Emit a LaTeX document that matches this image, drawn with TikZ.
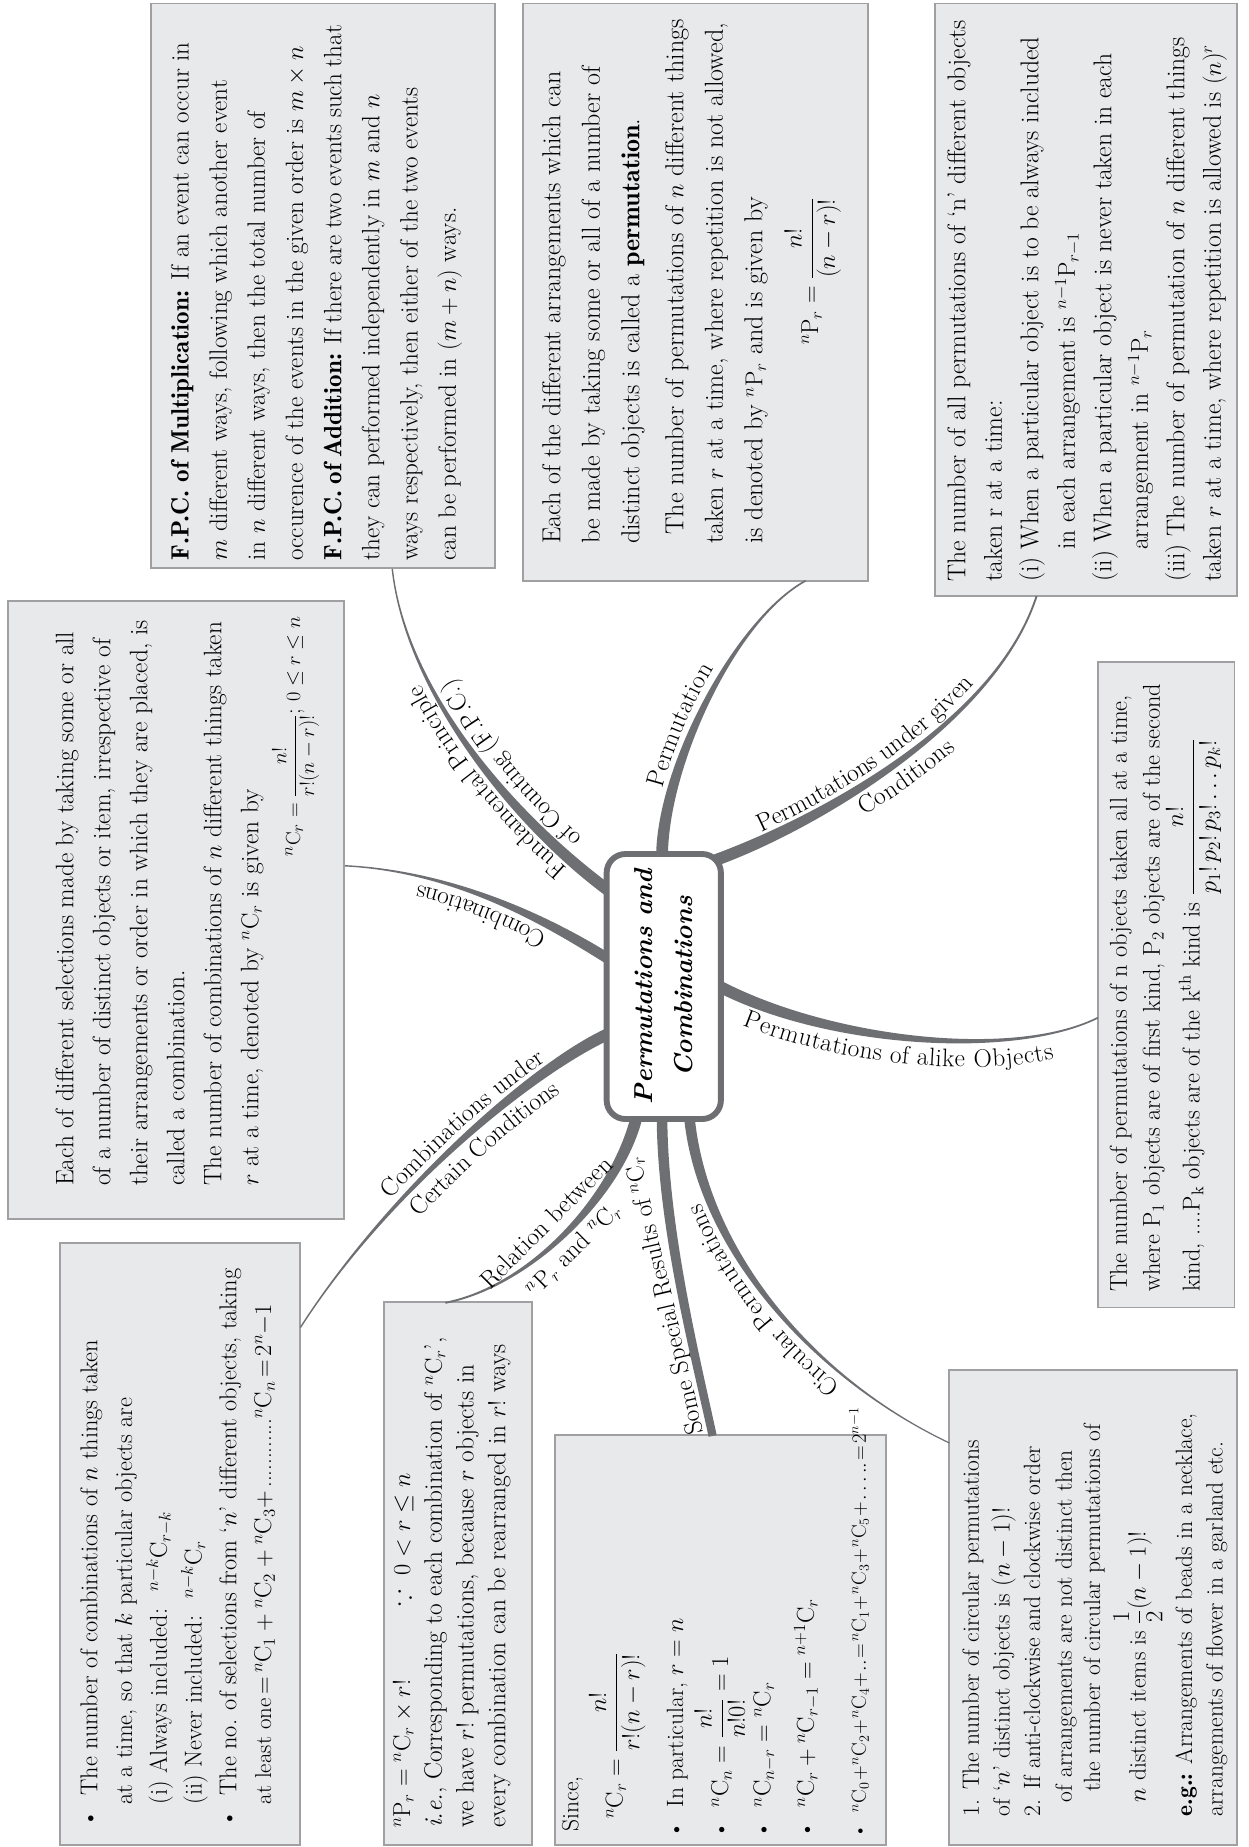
\documentclass[tikz,border=0pt]{standalone}
\usepackage{amsmath,amssymb}
\usetikzlibrary{calc,decorations.text}
\definecolor{boxfill}{RGB}{232,233,234}
\definecolor{boxline}{RGB}{160,160,162}
\definecolor{branchcol}{RGB}{110,111,115}
\newcommand\lblfont{\fontsize{21.5}{24}\selectfont}
\newcommand\bft[1]{{\fontseries{b}\selectfont #1}}
\newcommand\tightlines{\lineskiplimit=-20pt\relax}
\newcommand\tightmath{\medmuskip=1mu\relax\thickmuskip=2mu\relax}
\newcommand\mmbranch[6]{%
 \fill[branchcol] ($(#1)!#5!90:(#2)$) .. controls ($(#2)!#5!-90:(#1)$) and ($(#3)!#6!90:(#4)$) .. ($(#4)!#6!-90:(#3)$)
   -- ($(#4)!#6!90:(#3)$) .. controls ($(#3)!#6!-90:(#4)$) and ($(#2)!#5!90:(#1)$) .. ($(#1)!#5!-90:(#2)$) -- cycle;}
\begin{document}
\begin{tikzpicture}[x=1pt,y=-1pt,
 pbox/.style={draw=boxline, fill=boxfill, line width=1.6pt, rectangle, inner sep=0pt, outer sep=0pt, anchor=north west},
 ptext/.style={rotate=90, anchor=north west, inner sep=0pt, align=left},
 pline/.style={rotate=90, anchor=base west, inner sep=0pt},
 pform/.style={rotate=90, anchor=west, inner sep=0pt},
 plabel/.style={inner sep=0pt, font=\lblfont},
 lbl/.style 2 args={decorate, decoration={text along path, text={|\lblfont|#2}, raise=#1}},
 ]
\useasboundingbox (0,0) rectangle (1060,1568);
\fill[white] (0,0) rectangle (1060,1568);

% ---------- boxes ----------
\node[pbox, minimum width=292pt, minimum height=479pt] (fpc) at (128,3) {};
\node[pbox, minimum width=293pt, minimum height=490pt] (perm) at (444,3) {};
\node[pbox, minimum width=256pt, minimum height=503pt] (cond) at (794,3) {};
\node[pbox, minimum width=285pt, minimum height=525pt] (comb) at (7,510) {};
\node[pbox, minimum width=116pt, minimum height=548pt] (alike) at (932,562) {};
\node[pbox, minimum width=204pt, minimum height=511pt] (combcond) at (51,1055) {};
\node[pbox, minimum width=126pt, minimum height=461pt] (rel) at (326,1105) {};
\node[pbox, minimum width=281pt, minimum height=348pt] (spec) at (471,1218) {};
\node[pbox, minimum width=244pt, minimum height=403pt] (circ) at (806,1163) {};

% ---------- box texts ----------
\node[ptext, font={\fontsize{21.3}{32.4}\selectfont\tightlines}] (fpctext) at (145,476) {%
\bft{F.P.C. of Multiplication:} If an event can occur in\\
$m$ different ways, following which another event\\
in $n$ different ways, then the total number of\\
occurence of the events in the given order is $m\times n$\\
{\spaceskip=0.26em plus 0.1em\bft{F.P.C. of Addition:} If there are two events such that}\\
they can performed independently in $m$ and $n$\\
ways respectively, then either of the two events\\
can be performed in $(m+n)$ ways.};

\node[ptext, font={\fontsize{22.1}{33.5}\selectfont\tightlines}] (permtext) at (460,462) {%
Each of the different arrangements which can\\
be made by taking some or all of a number of\\
distinct objects is called a \bft{permutation}.\\[4pt]
\hspace*{8pt}The number of permutations of $n$ different things\\
taken $r$ at a time, where repetition is not allowed,\\
is denoted by ${}^{n}\mathrm{P}_{r}$ and is given by};
\node[pform, font=\fontsize{20.5}{24}\selectfont] (permform) at (690,293) {${}^{n}\mathrm{P}_{r}=\dfrac{n!}{(n-r)!}$};

\node[ptext, font={\fontsize{21.8}{31}\selectfont\tightlines}] (condtext) at (804,494) {%
The number of all permutations of `n' different objects\\
taken r at a time:\\
(i) When a particular object is to be always included\\
\hspace*{27pt}in each arrangement is ${}^{n-1}\mathrm{P}_{r-1}$\\
(ii) When a particular object is never taken in each\\
\hspace*{27pt}arrangement in ${}^{n-1}\mathrm{P}_{r}$\\
(iii) The number of permutation of $n$ different things\\
taken $r$ at a time, where repetition is allowed is $(n)^r$};

\node[ptext, font={\fontsize{21.5}{31.4}\selectfont\tightlines}] (combtext) at (47,1007) {%
Each of different selections made by taking some or all\\
of a number of distinct objects or item, irrespective of\\
their arrangements or order in which they are placed, is\\
called a combination.\\
The number of combinations of $n$ different things taken\\
$r$ at a time, denoted by ${}^{n}\mathrm{C}_{r}$ is given by};
\node[pform, font=\fontsize{19}{24}\selectfont] (combform) at (251,727) {${}^{n}\mathrm{C}_{r}=\dfrac{n!}{r!(n-r)!}$;\ $0\le r\le n$};

\node[ptext, font=\fontsize{20.7}{28}\selectfont] (aliketext) at (942,1097) {%
The number of permutations of n objects taken all at a time,\\
where P$_{1}$ objects are of first kind, P$_{2}$ objects are of the second\\
kind, ....P$_\mathrm{k}$ objects are of the k$^{\mathrm{th}}$ kind is $\dfrac{n!}{p_1!\,p_2!\,p_3!\ldots p_k!}$};

\node[ptext, font={\fontsize{20.7}{29.5}\selectfont\tightlines}] (combcondtext) at (68,1552) {%
\textbullet\ \ The number of combinations of $n$ things taken\\
\hspace*{20pt}at a time, so that $k$ particular objects are\\
\hspace*{20pt}(i) Always included: \ ${}^{n-k}\mathrm{C}_{r-k}$\\
\hspace*{20pt}(ii) Never included: \ ${}^{n-k}\mathrm{C}_{r}$\\
\textbullet\ \ The no. of selections from `$n$' different objects, taking\\
\hspace*{20pt}{\fontsize{19.5}{24}\selectfont at least one\,$=$\,${}^{n}\mathrm{C}_1+{}^{n}\mathrm{C}_2+{}^{n}\mathrm{C}_3+$\,............${}^{n}\mathrm{C}_n$\,$=$\,$2^n{-}1$}};

\node[ptext, font={\fontsize{21.5}{27}\selectfont\tightlines}] (reltext) at (333,1552) {%
\makebox[188pt][l]{${}^{n}\mathrm{P}_{r}={}^{n}\mathrm{C}_{r}\times r!$}$\because\ 0<r\le n$\\
\textit{i.e.}, Corresponding to each combination of ${}^{n}\mathrm{C}_{r}$',\\
we have $r!$ permutations, because $r$ objects in\\
every combination can be rearranged in $r!$ ways};

\node[pline, font=\fontsize{20}{24}\selectfont] (sp1) at (491,1555) {Since,};
\node[pform, font=\fontsize{20}{24}\selectfont] (sp2) at (524,1544) {${}^{n}\mathrm{C}_{r}=\dfrac{n!}{r!(n-r)!}$};
\node[pline, font=\fontsize{20}{24}\selectfont] (sp3) at (580,1561) {\textbullet\ \ In particular, $r=n$};
\node[pform, font=\fontsize{20}{24}\selectfont] (sp4) at (611,1561) {\textbullet\ \ ${}^{n}\mathrm{C}_{n}=\dfrac{n!}{n!0!}=1$};
\node[pline, font=\fontsize{20}{24}\selectfont] (sp5) at (654,1561) {\textbullet\ \ ${}^{n}\mathrm{C}_{n-r}={}^{n}\mathrm{C}_{r}$};
\node[pline, font=\fontsize{20}{24}\selectfont] (sp6) at (691,1561) {\textbullet\ \ ${}^{n}\mathrm{C}_{r}+{}^{n}\mathrm{C}_{r-1}={}^{n+1}\mathrm{C}_{r}$};
\node[pline, font={\fontsize{17}{20}\selectfont\tightmath}] (sp7) at (735,1561) {\textbullet\ \ ${}^{n}\mathrm{C}_{0}+{}^{n}\mathrm{C}_{2}+{}^{n}\mathrm{C}_{4}+..={}^{n}\mathrm{C}_{1}+{}^{n}\mathrm{C}_{3}+{}^{n}\mathrm{C}_{5}+\ldots..=2^{n-1}$};

\node[pline, font=\fontsize{20}{24}\selectfont] (ci1) at (831,1542) {1. The number of circular permutations};
\node[pline, font=\fontsize{20}{24}\selectfont] (ci2) at (857,1542) {of `$n$' distinct objects is $(n-1)!$};
\node[pline, font=\fontsize{20}{24}\selectfont] (ci3) at (883,1542) {2. If anti-clockwise and clockwise order};
\node[pline, font=\fontsize{20}{24}\selectfont] (ci4) at (910,1530) {of arrangements are not distinct then};
\node[pline, font=\fontsize{20}{24}\selectfont] (ci5) at (934,1521) {the number of circular permutations of};
\node[pform, font=\fontsize{20}{24}\selectfont] (ci6) at (966,1530) {$n$ distinct items is $\dfrac{1}{2}(n-1)!$};
\node[pline, font=\fontsize{20}{24}\selectfont] (ci7) at (1012,1542) {\bft{e.g.:} Arrangements of beads in a necklace,};
\node[pline, font=\fontsize{20}{24}\selectfont] (ci8) at (1038,1542) {arrangements of flower in a garland etc.};

% ---------- branches ----------
\coordinate (fpcS) at (518,757);  \coordinate (fpcC1) at (440,700);  \coordinate (fpcC2) at (345,590);  \coordinate (fpcE) at (333,483);
\coordinate (cmbS) at (518,815);  \coordinate (cmbC1) at (470,785);  \coordinate (cmbC2) at (390,740);  \coordinate (cmbE) at (293,735);
\coordinate (ccS) at (518,877);   \coordinate (ccC1) at (455,905);   \coordinate (ccC2) at (330,1010);  \coordinate (ccE) at (255,1127);
\coordinate (relS) at (541,946);  \coordinate (relC1) at (525,1015); \coordinate (relC2) at (450,1092); \coordinate (relE) at (378,1106);
\coordinate (spS) at (562,946);   \coordinate (spC1) at (562,1040);  \coordinate (spC2) at (590,1150);  \coordinate (spE) at (605,1219);
\coordinate (ciS) at (585,946);   \coordinate (ciC1) at (595,1060);  \coordinate (ciC2) at (690,1170);  \coordinate (ciE) at (806,1225);
\coordinate (alS) at (608,836);   \coordinate (alC1) at (700,885);   \coordinate (alC2) at (860,900);   \coordinate (alE) at (932,864);
\coordinate (coS) at (608,730);   \coordinate (coC1) at (690,700);   \coordinate (coC2) at (845,615);   \coordinate (coE) at (880,506);
\coordinate (peS) at (562,728);   \coordinate (peC1) at (562,650);   \coordinate (peC2) at (625,525);   \coordinate (peE) at (684,493);

\mmbranch{fpcS}{fpcC1}{fpcC2}{fpcE}{5pt}{0.6pt}
\mmbranch{cmbS}{cmbC1}{cmbC2}{cmbE}{4.5pt}{0.6pt}
\mmbranch{ccS}{ccC1}{ccC2}{ccE}{5pt}{0.6pt}
\mmbranch{relS}{relC1}{relC2}{relE}{5pt}{0.8pt}
\mmbranch{spS}{spC1}{spC2}{spE}{4.5pt}{3.5pt}
\mmbranch{ciS}{ciC1}{ciC2}{ciE}{4.5pt}{0.5pt}
\mmbranch{alS}{alC1}{alC2}{alE}{5pt}{0.7pt}
\mmbranch{coS}{coC1}{coC2}{coE}{5pt}{0.8pt}
\mmbranch{peS}{peC1}{peC2}{peE}{5pt}{0.7pt}

% ---------- centre ----------
\node[draw=branchcol, line width=5pt, rounded corners=16pt, fill=white, minimum width=97pt, minimum height=225pt, inner sep=0pt] (centre) at (563.5,837.5) {};
\node[rotate=90, align=center, inner sep=0pt, font=\fontsize{22}{34}\selectfont\bfseries\itshape] (centretext) at (centre.center) {Permutations and\\Combinations};

% ---------- branch labels ----------
\path[lbl={7pt}{Fundamental Principle}, decoration={text align={center, left indent=0pt, right indent=60pt}}] (fpcS) .. controls (fpcC1) and (fpcC2) .. (fpcE);
\path[lbl={-21pt}{of Counting (F.P.C.)}, decoration={text align={center, left indent=0pt, right indent=60pt}}] (fpcS) .. controls (fpcC1) and (fpcC2) .. (fpcE);
\path[lbl={8pt}{Combinations}, decoration={text align={center, left indent=0pt, right indent=7pt}}] (cmbS) .. controls (cmbC1) and (cmbC2) .. (cmbE);
\path[lbl={7pt}{Combinations under}, decoration={text align={center, left indent=74pt, right indent=0pt}}] (ccE) .. controls (ccC2) and (ccC1) .. (ccS);
\path[lbl={-22pt}{Certain Conditions}, decoration={text align={center, left indent=74pt, right indent=0pt}}] (ccE) .. controls (ccC2) and (ccC1) .. (ccS);
\path[lbl={8pt}{Permutation}, decoration={text align={center, left indent=0pt, right indent=50pt}}] (peS) .. controls (peC1) and (peC2) .. (peE);
\path[lbl={7pt}{Permutations under given}, decoration={text align={center, left indent=0pt, right indent=49pt}}] (coS) .. controls (coC1) and (coC2) .. (coE);
\path[lbl={-22pt}{Conditions}, decoration={text align={center, left indent=0pt, right indent=15pt}}] (coS) .. controls (coC1) and (coC2) .. (coE);
\path[lbl={-22pt}{Permutations of alike Objects}, decoration={text align={center, left indent=0pt, right indent=10pt}}] (alS) .. controls (alC1) and (alC2) .. (alE);
\path[lbl={8pt}{Circular Permutations}, decoration={text align={center, left indent=28pt, right indent=0pt}}] (ciE) .. controls (ciC2) and (ciC1) .. (ciS);
\node[plabel, rotate=45, align=center, font=\fontsize{21.5}{32}\selectfont] (rellabel) at (476,1050) {Relation between\\${}^{n}\mathrm{P}_{r}$ and ${}^{n}\mathrm{C}_{r}$};
\node[plabel, rotate=103] (splabel) at (565,1100) {Some Special Results of ${}^{n}\mathrm{C}_{r}$};
\end{tikzpicture}
\end{document}
